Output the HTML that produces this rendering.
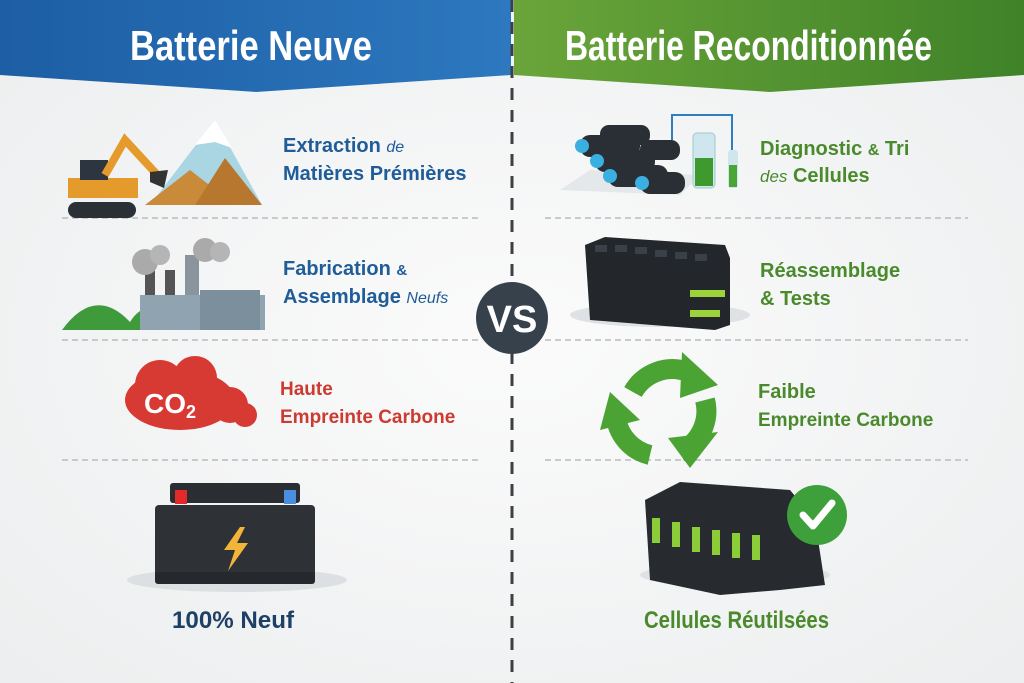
<!DOCTYPE html>
<html><head><meta charset="utf-8"><style>
html,body{margin:0;padding:0;width:1024px;height:683px;overflow:hidden;background:#f3f4f5}
svg{display:block}
.t{font-family:"Liberation Sans",sans-serif;font-weight:bold;font-size:19px}
.h{font-family:"Liberation Sans",sans-serif;font-weight:bold;font-size:42px;fill:#fff}
</style></head><body>
<svg width="1024" height="683" viewBox="0 0 1024 683" xmlns="http://www.w3.org/2000/svg">
<defs>
<linearGradient id="bl" x1="0" x2="1"><stop offset="0" stop-color="#1d5ea4"/><stop offset="1" stop-color="#2d78bf"/></linearGradient>
<linearGradient id="gr" x1="0" x2="1"><stop offset="0" stop-color="#6aa53a"/><stop offset="1" stop-color="#3f8228"/></linearGradient>
<radialGradient id="bg" cx="0.5" cy="0.5" r="0.7"><stop offset="0" stop-color="#fbfbfb"/><stop offset="1" stop-color="#eceeef"/></radialGradient>
</defs>
<rect width="1024" height="683" fill="url(#bg)"/>
<polygon points="0,0 511,0 511,75 256,92 0,75" fill="url(#bl)"/>
<polygon points="514,0 1024,0 1024,75 770,92 514,75" fill="url(#gr)"/>
<text class="h" x="130" y="60" textLength="242" lengthAdjust="spacingAndGlyphs">Batterie Neuve</text>
<text class="h" x="565" y="60" textLength="367" lengthAdjust="spacingAndGlyphs">Batterie Reconditionnée</text>
<line x1="512" y1="0" x2="512" y2="683" stroke="#3c4046" stroke-width="3" stroke-dasharray="12,10"/>
<g stroke="#b8bcc0" stroke-width="1.5" stroke-dasharray="6,4">
<line x1="62" y1="218" x2="480" y2="218"/><line x1="62" y1="340" x2="480" y2="340"/><line x1="62" y1="460" x2="480" y2="460"/>
<line x1="545" y1="218" x2="968" y2="218"/><line x1="545" y1="340" x2="968" y2="340"/><line x1="545" y1="460" x2="968" y2="460"/>
</g>
<!-- VS -->
<circle cx="512" cy="318" r="36" fill="#37414c"/>
<text x="512" y="332" text-anchor="middle" style="font-family:'Liberation Sans',sans-serif;font-weight:bold;font-size:38px;fill:#fff">VS</text>
<!-- excavator -->
<polygon points="150,205 215,120 262,205" fill="#a9d6e2"/>
<polygon points="195,145 215,120 232,148 215,142" fill="#fff"/>
<polygon points="145,205 190,170 235,205" fill="#c98a3a"/>
<polygon points="195,205 225,158 262,205" fill="#b8772e"/>
<rect x="68" y="178" width="70" height="20" fill="#e59a2c"/>
<rect x="80" y="160" width="28" height="20" fill="#2c3540"/>
<path d="M105,175 L125,140 L162,180" stroke="#e59a2c" stroke-width="8" fill="none"/>
<path d="M150,172 l18,-2 l-4,18 l-14,-6z" fill="#333"/>
<rect x="68" y="202" width="68" height="16" rx="8" fill="#2b2f36"/>
<!-- factory -->
<path d="M62,330 Q95,285 130,322 Q150,290 185,330Z" fill="#3f9a3c"/>
<rect x="145" y="270" width="10" height="30" fill="#555"/><rect x="165" y="270" width="10" height="30" fill="#555"/><rect x="185" y="255" width="14" height="45" fill="#8a949c"/>
<rect x="140" y="295" width="125" height="35" fill="#8fa3b0"/><rect x="200" y="290" width="60" height="40" fill="#7b8f9c"/>
<circle cx="145" cy="262" r="13" fill="#aaa"/><circle cx="160" cy="255" r="10" fill="#b5b5b5"/><circle cx="205" cy="250" r="12" fill="#aaa"/><circle cx="220" cy="252" r="10" fill="#b5b5b5"/>
<!-- CO2 cloud -->
<g fill="#d63a32"><ellipse cx="180" cy="400" rx="55" ry="30"/><circle cx="160" cy="385" r="25"/><circle cx="195" cy="378" r="22"/><circle cx="230" cy="405" r="18"/><circle cx="245" cy="415" r="12"/></g>
<text x="170" y="413" text-anchor="middle" style="font-family:'Liberation Sans',sans-serif;font-weight:bold;font-size:28px;fill:#fff">CO<tspan font-size="18" dy="5">2</tspan></text>
<!-- battery -->
<ellipse cx="237" cy="580" rx="110" ry="12" fill="#dde0e2"/>
<rect x="170" y="483" width="130" height="20" rx="3" fill="#2a2d31"/>
<rect x="175" y="490" width="12" height="14" fill="#e32a2a"/><rect x="284" y="490" width="12" height="14" fill="#4a8ee0"/>
<rect x="155" y="505" width="160" height="75" rx="4" fill="#2e3237"/>
<rect x="155" y="572" width="160" height="12" rx="3" fill="#25282c"/>
<polygon points="240,527 224,550 235,550 228,571 248,543 237,543 245,527" fill="#f2b53a"/>
<!-- cells diagnostic -->
<polygon points="560,190 680,195 700,175 590,170" fill="#e4e8ea"/>
<g fill="#2a2f35"><rect x="580" y="135" width="60" height="22" rx="10"/><rect x="595" y="150" width="60" height="22" rx="10"/><rect x="608" y="165" width="60" height="22" rx="10"/><rect x="600" y="125" width="50" height="20" rx="9"/><rect x="640" y="140" width="40" height="20" rx="9"/><rect x="640" y="172" width="45" height="22" rx="10"/></g>
<g fill="#3ab0e0"><circle cx="582" cy="146" r="7"/><circle cx="597" cy="161" r="7"/><circle cx="610" cy="176" r="7"/><circle cx="642" cy="183" r="7"/></g>
<rect x="693" y="133" width="22" height="55" rx="4" fill="#cfe6ee" stroke="#9cc" /><rect x="695" y="158" width="18" height="28" fill="#3f9a2e"/>
<rect x="728" y="150" width="10" height="38" rx="3" fill="#cfe6ee"/><rect x="729" y="165" width="8" height="22" fill="#4aa634"/>
<path d="M672,140 V115 H732 V150" stroke="#2f7fc0" stroke-width="2" fill="none"/>
<!-- reassembly -->
<ellipse cx="660" cy="315" rx="90" ry="12" fill="#dfe2e4"/>
<polygon points="585,245 605,237 725,245 730,258 730,325 715,330 590,320" fill="#23272c"/>
<g fill="#3a4047"><rect x="595" y="245" width="12" height="7"/><rect x="615" y="245" width="12" height="7"/><rect x="635" y="247" width="12" height="7"/><rect x="655" y="250" width="12" height="7"/><rect x="675" y="252" width="12" height="7"/><rect x="695" y="254" width="12" height="7"/></g>
<rect x="690" y="290" width="35" height="7" fill="#9bd43a"/><rect x="690" y="310" width="30" height="7" fill="#9bd43a"/>
<!-- recycle -->
<g stroke="#4aa332" stroke-width="20" fill="none">
<path d="M633,392 A45,45 0 0 1 688,372"/>
<path d="M705,400 A45,45 0 0 1 680,452"/>
<path d="M650,455 A45,45 0 0 1 616,418"/>
</g>
<g fill="#4aa332">
<polygon points="682,352 718,385 680,398"/>
<polygon points="718,432 690,468 668,438"/>
<polygon points="600,430 610,392 640,420"/>
</g>
<!-- cell pack -->
<ellipse cx="735" cy="575" rx="95" ry="12" fill="#dfe2e4"/>
<polygon points="645,500 680,482 790,490 815,520 825,585 780,590 720,595 650,580" fill="#272b30"/>
<g fill="#8ccc38"><rect x="652" y="518" width="8" height="25"/><rect x="672" y="522" width="8" height="25"/><rect x="692" y="527" width="8" height="25"/><rect x="712" y="530" width="8" height="25"/><rect x="732" y="533" width="8" height="25"/><rect x="752" y="535" width="8" height="25"/></g>
<circle cx="817" cy="515" r="30" fill="#3ea03a"/>
<path d="M803,515 L813,526 L832,503" stroke="#fff" stroke-width="7" fill="none" stroke-linecap="round" stroke-linejoin="round"/>
<!-- labels -->
<g class="t" fill="#1f5c98">
<text x="283" y="152" style="font-size:20px">Extraction <tspan font-style="italic" font-weight="normal" font-size="16">de</tspan></text>
<text x="283" y="180" style="font-size:20px">Matières Prémières</text>
<text x="283" y="275" style="font-size:20px">Fabrication <tspan font-size="15">&amp;</tspan></text>
<text x="283" y="303" style="font-size:20px">Assemblage <tspan font-style="italic" font-weight="normal" font-size="16">Neufs</tspan></text>
</g>
<g class="t" fill="#cc3a31"><text x="280" y="395">Haute</text><text x="280" y="423">Empreinte Carbone</text></g>
<text x="172" y="628" textLength="122" lengthAdjust="spacingAndGlyphs" class="t" style="font-size:24px;fill:#1e3f66">100% Neuf</text>
<g class="t" fill="#4a8a2c">
<text x="760" y="155" style="font-size:20px">Diagnostic <tspan font-size="16">&amp;</tspan> Tri</text>
<text x="760" y="182" style="font-size:20px"><tspan font-style="italic" font-weight="normal" font-size="17">des</tspan> Cellules</text>
<text x="760" y="277" style="font-size:20px">Réassemblage</text>
<text x="760" y="305" style="font-size:20px">&amp; Tests</text>
<text x="758" y="398" style="font-size:20px">Faible</text>
<text x="758" y="426">Empreinte Carbone</text>
</g>
<text x="644" y="628" textLength="185" lengthAdjust="spacingAndGlyphs" class="t" style="font-size:24px;fill:#4a8a2c">Cellules Réutilsées</text>
</svg>
</body></html>
